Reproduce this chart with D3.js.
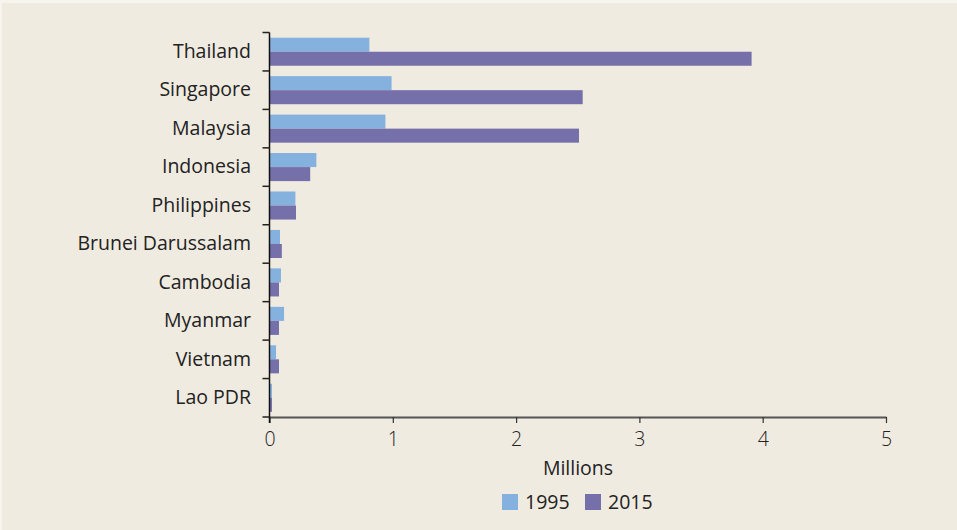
<!DOCTYPE html>
<html><head><meta charset="utf-8">
<script src="https://cdn.jsdelivr.net/npm/d3@7"></script>
<style>body{margin:0;background:#fff}svg{display:block}text{font-family:"Open Sans",Lato,sans-serif;fill:#222;font-weight:400}</style>
</head><body><svg id="c" width="957" height="530"></svg>
<script>
const categories = ["Thailand","Singapore","Malaysia","Indonesia","Philippines","Brunei Darussalam","Cambodia","Myanmar","Vietnam","Lao PDR"];
const series = ["1995","2015"];
const values1995 = [0.81,0.99,0.94,0.38,0.21,0.085,0.093,0.118,0.053,0.02];
const values2015 = [3.91,2.54,2.51,0.33,0.215,0.10,0.077,0.077,0.077,0.02];
const xTicks = [0,1,2,3,4,5];
const colors = ["#85b1de","#7570aa"];

(function(){
const svg = d3.select("#c");
svg.append("rect").attr("x",0).attr("y",0).attr("width",957).attr("height",530).attr("fill","#f7f4ee");
svg.append("rect").attr("x",2).attr("y",3).attr("width",955).attr("height",527).attr("fill","#f0ebe1");

const mLeft = 269.5, mRight = 886, mTop = 32.5, mBottom = 417;
const x = d3.scaleLinear().domain([0,5]).range([mLeft,mRight]);
const y = d3.scaleBand().domain(categories).range([mTop,mBottom]).paddingInner(0.27).paddingOuter(0.135);
const ySub = d3.scaleBand().domain(series).range([0,y.bandwidth()]);

const data = categories.map((c,i)=>({c, v:[values1995[i],values2015[i]]}));
const g = svg.append("g");
data.forEach(d=>{
  series.forEach((s,j)=>{
    g.append("rect").attr("x",x(0)).attr("y",y(d.c)+ySub(s))
      .attr("width",x(d.v[j])-x(0)).attr("height",ySub.bandwidth()).attr("fill",colors[j]);
  });
});

const xa = svg.append("g").attr("transform",`translate(0,${mBottom})`)
  .call(d3.axisBottom(x).tickValues(xTicks).tickFormat(d3.format("d")).tickSize(6).tickSizeOuter(0));
xa.select(".domain").attr("stroke","#555").attr("stroke-width",2);
xa.selectAll(".tick line").attr("stroke","#333").attr("stroke-width",1.2);
xa.selectAll(".tick text").attr("font-size",19.5).attr("dy","1.0em").style("fill","#222")
  .style("font-family",'"Open Sans",Lato,sans-serif').style("font-weight",300);

const yb = d3.scaleLinear().domain([0,categories.length]).range([mTop,mBottom]);
const ya = svg.append("g").attr("transform",`translate(${mLeft},0)`);
ya.append("line").attr("x1",0).attr("x2",0).attr("y1",mTop).attr("y2",mBottom+6).attr("stroke","#111").attr("stroke-width",1.5);
d3.range(categories.length+1).forEach(i=>{
  ya.append("line").attr("x1",-7).attr("x2",0).attr("y1",yb(i)).attr("y2",yb(i)).attr("stroke","#222").attr("stroke-width",1.5);
});
categories.forEach(c=>{
  svg.append("text").attr("x",251).attr("y",y(c)+y.bandwidth()/2).attr("dy","0.32em")
    .attr("text-anchor","end").attr("font-size",19.5).text(c);
});

svg.append("text").attr("x",578).attr("y",475).attr("text-anchor","middle").attr("font-size",19.5).text("Millions");

const lx = [502,585];
series.forEach((s,j)=>{
  svg.append("rect").attr("x",lx[j]).attr("y",494).attr("width",16).attr("height",16).attr("fill",colors[j]);
  svg.append("text").attr("x",lx[j]+23).attr("y",502).attr("dy","0.35em").attr("font-size",19.5).text(s);
});
})();
</script></body></html>
